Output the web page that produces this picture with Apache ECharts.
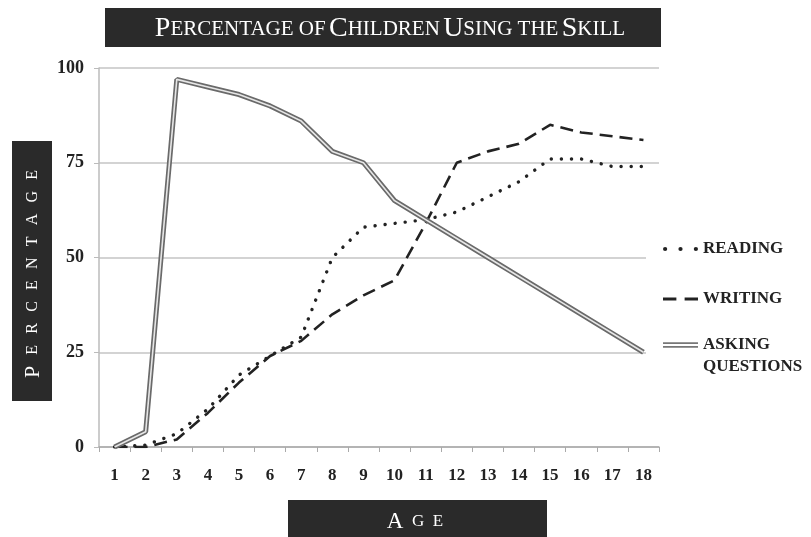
<!DOCTYPE html>
<html>
<head>
<meta charset="utf-8">
<script src="https://cdn.jsdelivr.net/npm/echarts@6/dist/echarts.min.js"></script>
<style>
  html, body { margin: 0; padding: 0; background: #fff; }
  #chart { width: 811px; height: 537px; }
</style>
</head>
<body>
<div id="chart"></div>
<script>
var ages = ['1', '2', '3', '4', '5', '6', '7', '8', '9', '10', '11', '12', '13', '14', '15', '16', '17', '18'];
var reading = [0, 0.5, 3.5, 10, 19, 24, 29, 50, 58, 59, 60, 62, 66, 70, 76, 76, 74, 74];
var writing = [0, 0, 2, 9, 17, 24, 28, 35, 40, 44, 59, 75, 78, 80, 85, 83, 82, 81];
var asking = [0, 4, 97, 95, 93, 90, 86, 78, 75, 65, 60, 55, 50, 45, 40, 35, 30, 25];
var yTicks = [0, 25, 50, 75, 100];

var serif = '"Liberation Serif", "DejaVu Serif", serif';
var ink = '#222';

// legend icons drawn as paths (dots, dashes, double rule)
var dotIcon = 'path://M1,5a2,2 0 1,0 4,0a2,2 0 1,0 -4,0ZM15.5,5a2,2 0 1,0 4,0a2,2 0 1,0 -4,0ZM30,5a2,2 0 1,0 4,0a2,2 0 1,0 -4,0Z';
var dashIcon = 'path://M0,0H13V3H0ZM21,0H34V3H21Z';
var doubleIcon = 'path://M0,0H35V1.8H0ZM0,3.6H35V5.4H0Z';

var legendText = {
    color: ink,
    fontFamily: serif,
    fontWeight: 'bold',
    fontSize: 17,
    lineHeight: 22
};

var chart = echarts.init(document.getElementById('chart'));

var option = {
    animation: false,
    backgroundColor: '#fff',
    grid: {
        left: 99,
        right: 152,
        top: 68,
        bottom: 90
    },
    xAxis: {
        type: 'category',
        data: ages,
        boundaryGap: true,
        axisLine: { lineStyle: { color: '#aaa', width: 1.5 } },
        axisTick: { show: true, length: 5, lineStyle: { color: '#aaa' } },
        axisLabel: {
            color: ink,
            fontFamily: serif,
            fontWeight: 'bold',
            fontSize: 17,
            margin: 20
        }
    },
    yAxis: {
        type: 'value',
        min: yTicks[0],
        max: yTicks[yTicks.length - 1],
        interval: 25,
        axisLine: { show: true, lineStyle: { color: '#bbb', width: 1.5 } },
        axisTick: { show: true, length: 5, lineStyle: { color: '#bbb' } },
        splitLine: { lineStyle: { color: '#c4c4c4', width: 1.5 } },
        axisLabel: {
            color: ink,
            fontFamily: serif,
            fontWeight: 'bold',
            fontSize: 18,
            margin: 15
        }
    },
    legend: [
        {
            orient: 'vertical',
            left: 646,
            top: 230,
            backgroundColor: '#fff',
            padding: [8, 4, 8, 17],
            itemWidth: 35,
            itemHeight: 14,
            itemGap: 28,
            textStyle: legendText,
            data: [
                { name: 'READING', icon: dotIcon, itemStyle: { color: ink } },
                { name: 'WRITING', icon: dashIcon, itemStyle: { color: ink } }
            ]
        },
        {
            orient: 'vertical',
            left: 646,
            top: 312,
            backgroundColor: '#fff',
            padding: [0, 4, 8, 17],
            itemWidth: 35,
            itemHeight: 14,
            textStyle: legendText,
            data: [
                { name: 'ASKING QUESTIONS', icon: doubleIcon, itemStyle: { color: '#777' } }
            ],
            formatter: function (name) {
                // empty first line keeps the icon level with "ASKING"
                return '\nASKING\nQUESTIONS';
            }
        }
    ],
    series: [
        {
            name: 'READING',
            type: 'line',
            data: reading,
            symbol: 'none',
            lineStyle: { color: ink, width: 3.4, type: [0.1, 10], cap: 'round' },
            itemStyle: { color: ink }
        },
        {
            name: 'WRITING',
            type: 'line',
            data: writing,
            symbol: 'none',
            lineStyle: { color: ink, width: 2.6, type: [13, 7] },
            itemStyle: { color: ink }
        },
        {
            name: 'ASKING QUESTIONS',
            type: 'line',
            data: asking,
            symbol: 'none',
            lineStyle: { color: '#6a6a6a', width: 5 },
            itemStyle: { color: '#777' }
        },
        {
            name: 'asking-inner',
            type: 'line',
            data: asking,
            symbol: 'none',
            silent: true,
            lineStyle: { color: '#e6e6e6', width: 1.6 },
            itemStyle: { color: '#e6e6e6' }
        }
    ],
    graphic: [
        // title box
        {
            type: 'rect',
            shape: { x: 105, y: 8, width: 556, height: 39 },
            style: { fill: '#2a2a2a' }
        },
        {
            type: 'text',
            x: 390,
            y: 29,
            style: {
                text: '{b|P}{s|ERCENTAGE OF} {b|C}{s|HILDREN} {b|U}{s|SING THE} {b|S}{s|KILL}',
                align: 'center',
                verticalAlign: 'middle',
                rich: {
                    b: { fill: '#fff', fontFamily: serif, fontSize: 28 },
                    s: { fill: '#fff', fontFamily: serif, fontSize: 21 }
                }
            }
        },
        // y axis name box
        {
            type: 'rect',
            shape: { x: 12, y: 141, width: 40, height: 260 },
            style: { fill: '#2a2a2a' }
        },
        {
            type: 'text',
            x: 33,
            y: 274,
            rotation: Math.PI / 2,
            style: {
                text: '{b|P}{s|\u2002\u2009E\u2002\u2009R\u2002\u2009C\u2002\u2009E\u2002\u2009N\u2002\u2009T\u2002\u2009A\u2002\u2009G\u2002\u2009E}',
                align: 'center',
                verticalAlign: 'middle',
                rich: {
                    b: { fill: '#fff', fontFamily: serif, fontSize: 22 },
                    s: { fill: '#fff', fontFamily: serif, fontSize: 16 }
                }
            }
        },
        // x axis name box
        {
            type: 'rect',
            shape: { x: 288, y: 500, width: 259, height: 40 },
            style: { fill: '#2a2a2a' }
        },
        {
            type: 'text',
            x: 415,
            y: 522,
            style: {
                text: '{b|A}{s|\u2002G\u2002E}',
                align: 'center',
                verticalAlign: 'middle',
                rich: {
                    b: { fill: '#fff', fontFamily: serif, fontSize: 23 },
                    s: { fill: '#fff', fontFamily: serif, fontSize: 17 }
                }
            }
        }
    ]
};

chart.setOption(option);
</script>
</body>
</html>
